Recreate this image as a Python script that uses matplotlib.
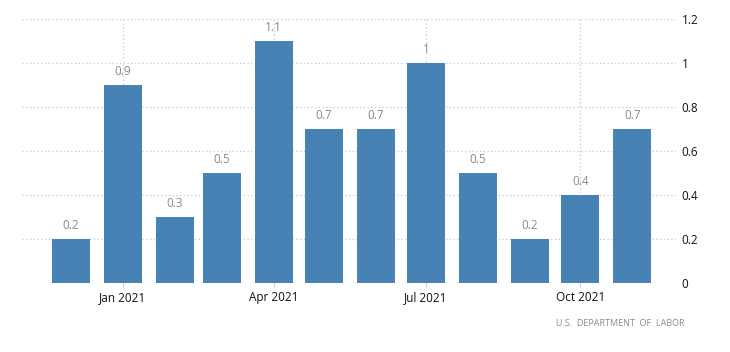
import matplotlib
matplotlib.use("Agg")
import matplotlib.pyplot as plt
import matplotlib.dates as mdates
import pandas as pd

# monthly change, %
months = ["2020-12", "2021-01", "2021-02", "2021-03", "2021-04", "2021-05",
          "2021-06", "2021-07", "2021-08", "2021-09", "2021-10", "2021-11"]
values = [0.2, 0.9, 0.3, 0.5, 1.1, 0.7, 0.7, 1.0, 0.5, 0.2, 0.4, 0.7]
value_labels = ["0.2", "0.9", "0.3", "0.5", "1.1", "0.7", "0.7", "1", "0.5", "0.2", "0.4", "0.7"]
xticks = ["2021-01", "2021-04", "2021-07", "2021-10"]
yticks = [0, 0.2, 0.4, 0.6, 0.8, 1, 1.2]
ytick_labels = ["0", "0.2", "0.4", "0.6", "0.8", "1", "1.2"]
source = "U.S.  DEPARTMENT  OF  LABOR"

plt.rcParams["font.family"] = ["Open Sans", "DejaVu Sans"]

dates = pd.to_datetime(months)
fig = plt.figure(figsize=(7.3, 3.52), dpi=100)
ax = fig.add_axes([22 / 730, 1 - 283 / 352, (676 - 22) / 730, (283 - 19) / 352])

ax.bar(dates, values, width=22.7, color="#4682b4", zorder=2)
for d, v, lab in zip(dates, values, value_labels):
    ax.annotate(lab, (mdates.date2num(d), v), xytext=(0, 5), textcoords="offset points",
                ha="center", va="bottom", fontsize=8.5, color="#8a8a8a")

ax.set_xlim(pd.Timestamp("2020-11-02"), pd.Timestamp("2021-11-27"))
ax.set_ylim(0, 1.2)
ax.set_xticks(pd.to_datetime(xticks))
ax.xaxis.set_major_formatter(mdates.DateFormatter("%b %Y"))
ax.set_yticks(yticks)
ax.set_yticklabels(ytick_labels)
ax.yaxis.tick_right()

ax.grid(True, color="#c8c8c8", linestyle=(0, (1, 2)), linewidth=0.9, zorder=0)
ax.set_axisbelow(True)
for s in ax.spines.values():
    s.set_visible(False)
ax.tick_params(axis="y", length=0, pad=4, labelsize=8.5, labelcolor="#111111")
ax.tick_params(axis="x", length=3, color="#c8c8c8", pad=3, labelsize=8.5, labelcolor="#111111")

fig.text(685 / 730, 1 - 324 / 352, source, ha="right", va="center",
         fontsize=6.5, color="#8a8a8a")

fig.savefig("out.png", dpi=100)
